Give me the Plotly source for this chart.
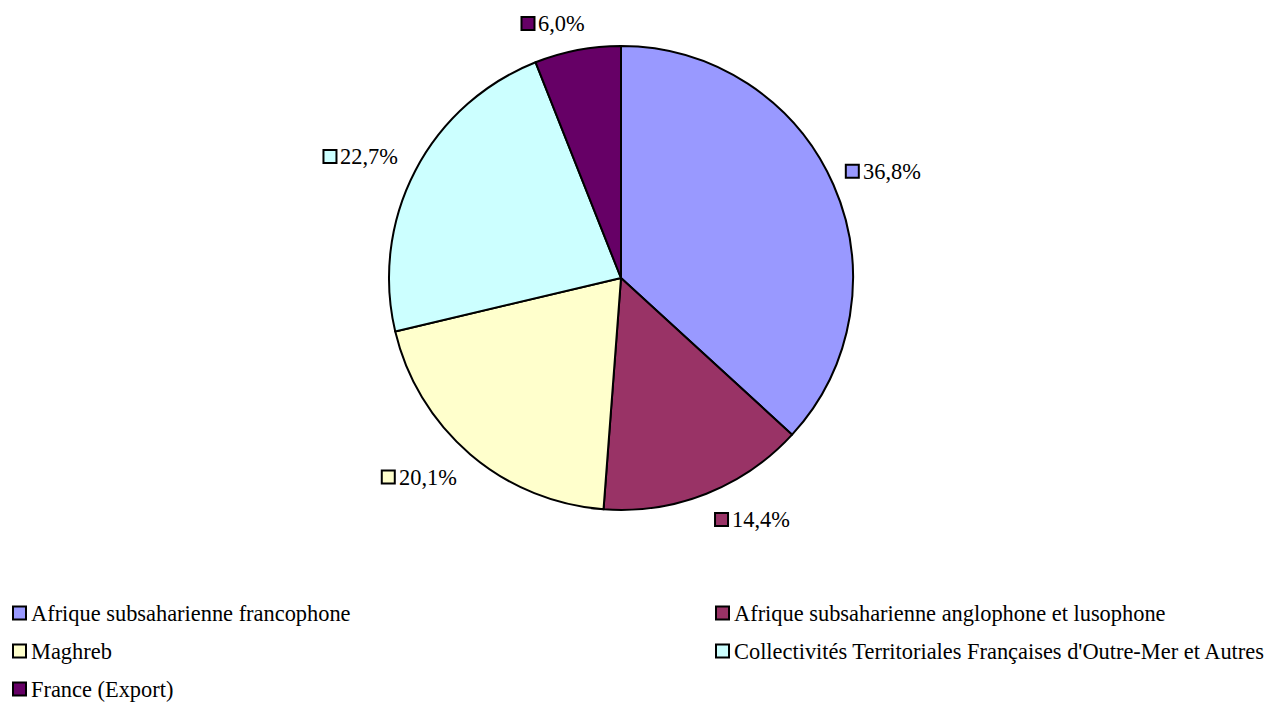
import math
import plotly.graph_objects as go

# Sales breakdown by region (shares in %)
regions = [
    "Afrique subsaharienne francophone",
    "Afrique subsaharienne anglophone et lusophone",
    "Maghreb",
    "Collectivités Territoriales Françaises d'Outre-Mer et Autres",
    "France (Export)",
]
shares = [36.8, 14.4, 20.1, 22.7, 6.0]
slice_colors = ["#9999FF", "#993366", "#FFFFCC", "#CCFFFF", "#660066"]

W, H = 1266, 704
CX, CY, R = 621, 278, 232          # pie centre and radius, in pixels
FONT = dict(family="Liberation Serif, Times New Roman, serif", size=22.4, color="black")
SQ = 13                             # colour key square size
GAP = 3                             # space between key square and text


def px(x):
    return x / W


def py(y):
    return 1 - y / H


fig = go.Figure(
    go.Pie(
        labels=regions,
        values=shares,
        sort=False,
        direction="clockwise",
        rotation=0,
        marker=dict(colors=slice_colors, line=dict(color="black", width=2)),
        textinfo="none",
        hoverinfo="label+percent",
        showlegend=False,
        domain=dict(x=[px(CX - R), px(CX + R)], y=[py(CY + R), py(CY - R)]),
    )
)

# advance widths (em) of the glyphs used in the percentage labels
GLYPH_EM = {",": 0.25, ".": 0.25, "%": 0.833}


def text_width(s):
    return sum(GLYPH_EM.get(ch, 0.5) for ch in s) * FONT["size"]


def add_key(x_left, y_mid, color):
    fig.add_shape(
        type="rect", xref="paper", yref="paper",
        xsizemode="pixel", ysizemode="pixel",
        xanchor=px(x_left), yanchor=py(y_mid),
        x0=0, x1=SQ, y0=-SQ / 2, y1=SQ / 2,
        fillcolor=color, line=dict(color="black", width=2),
    )


def add_text(x_left, y_mid, text):
    fig.add_annotation(
        x=px(x_left), y=py(y_mid), xref="paper", yref="paper",
        text=text, showarrow=False, xanchor="left", yanchor="middle",
        font=FONT, borderpad=0,
    )


# percentage labels placed just outside each slice
total = sum(shares)
cum = 0.0
for value, color in zip(shares, slice_colors):
    theta = 2 * math.pi * (cum + value / 2) / total
    cum += value
    s, c = math.sin(theta), math.cos(theta)
    ax = CX + (R + 18) * s
    ay = CY - (R + 18) * c
    label = f"{value / total * 100:.1f}".replace(".", ",") + "%"
    w = SQ + GAP + text_width(label)
    if c > 0.7:                     # above the pie
        left = ax - w + 10 if s < 0 else ax - 10
        mid = ay - 9
    elif c < -0.7:                  # below the pie
        left = ax + 2 if s > 0 else ax - w - 3
        mid = ay + 9
    else:                           # beside the pie
        left = ax - 4 if s > 0 else ax - w - 2
        mid = ay - 6
    add_key(left, mid, color)
    add_text(left + SQ + GAP, mid, label)

# legend: two columns, filled row by row
LEG_COLS = [13, 716]
LEG_ROWS = [613, 651, 689]
for i, (name, color) in enumerate(zip(regions, slice_colors)):
    x0 = LEG_COLS[i % 2]
    y0 = LEG_ROWS[i // 2]
    add_key(x0, y0, color)
    add_text(x0 + SQ + 4, y0, name)

fig.update_layout(
    width=W, height=H,
    margin=dict(l=0, r=0, t=0, b=0),
    paper_bgcolor="white", plot_bgcolor="white",
    font=FONT,
    showlegend=False,
)

fig.write_html("out.html")
